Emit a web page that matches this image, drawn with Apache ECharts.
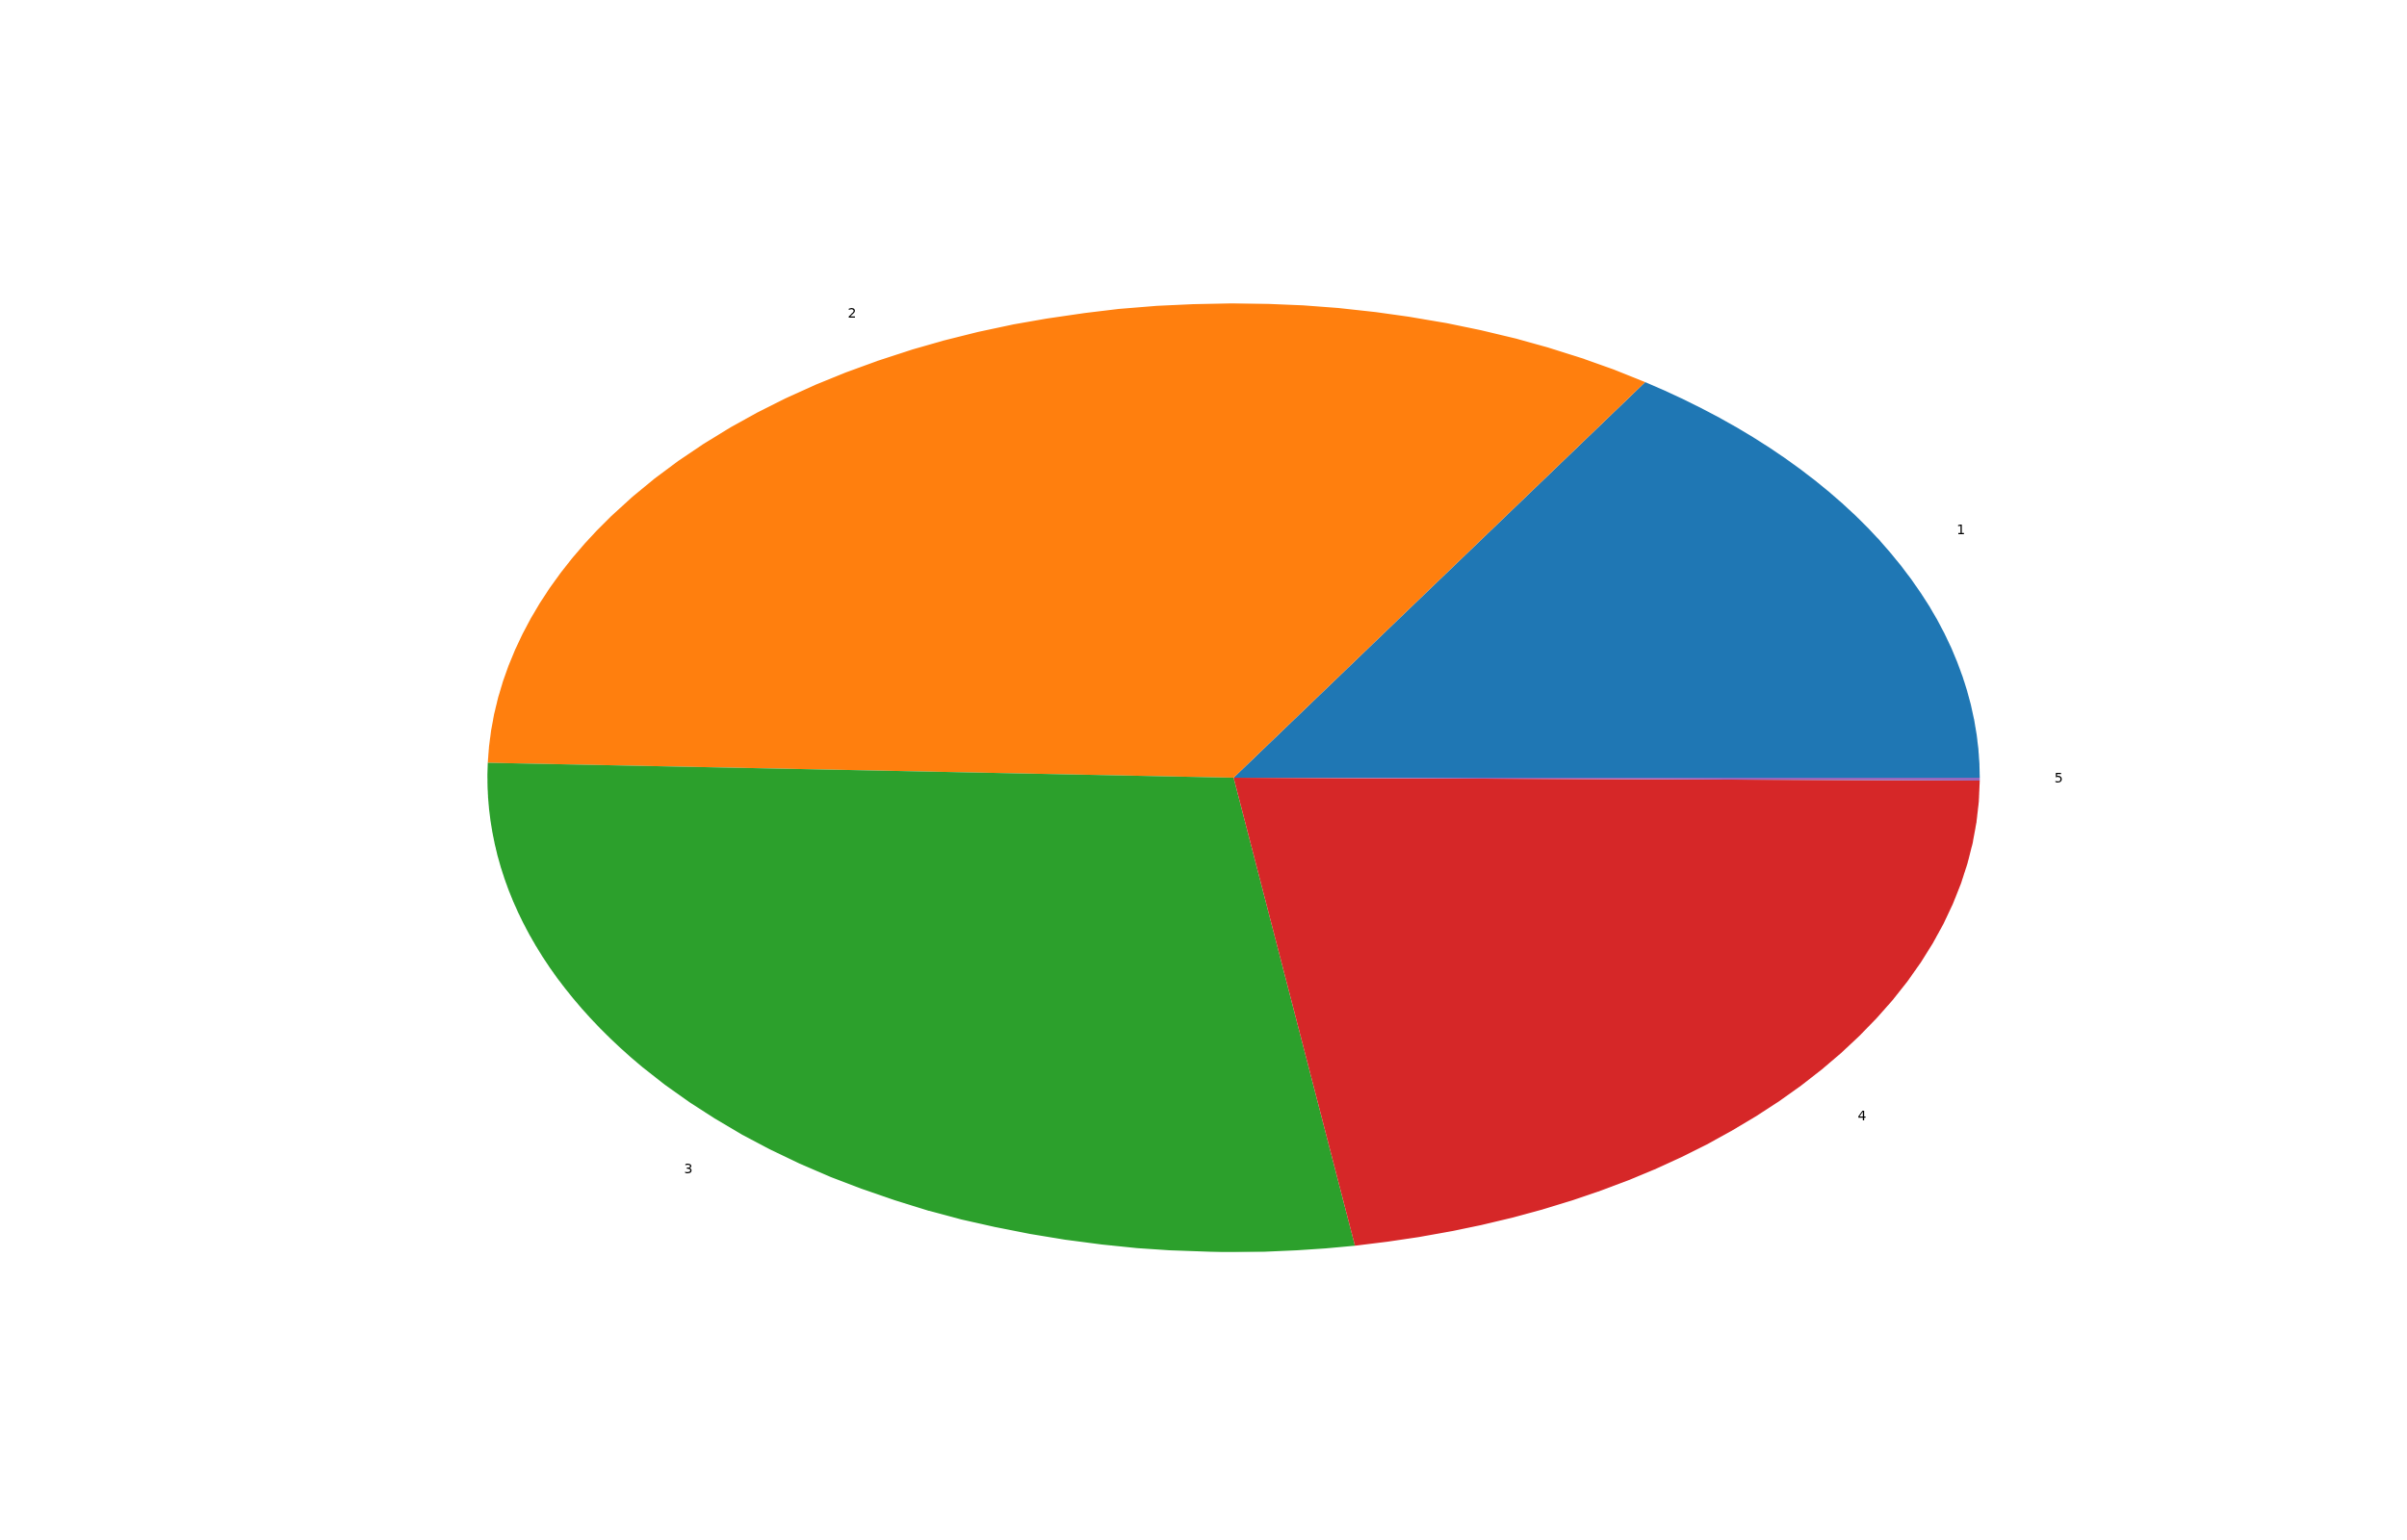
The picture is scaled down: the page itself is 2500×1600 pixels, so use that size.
<!DOCTYPE html>
<html>
<head>
<meta charset="utf-8">
<script src="https://cdn.jsdelivr.net/npm/echarts@6/dist/echarts.min.js"></script>
<style>html,body{margin:0;padding:0;background:#fff;}#c{width:2500px;height:1600px;}</style>
</head>
<body>
<div id="c"></div>
<script>
const labels = ['1', '2', '3', '4', '5'];
const values = [15.7, 33.8, 28.1, 22.3, 0.1];
const colors = ['#1f77b4', '#ff7f0e', '#2ca02c', '#d62728', '#9467bd'];

const total = values.reduce((a, b) => a + b, 0);
const cum = [];
values.reduce((acc, v, i) => { cum[i] = acc; return acc + v; }, 0);

const chart = echarts.init(document.getElementById('c'));
chart.setOption({
  backgroundColor: '#ffffff',
  animation: false,
  series: [{
    type: 'custom',
    coordinateSystem: 'none',
    data: values.map(v => [v]),
    renderItem: function (params, api) {
      const i = params.dataIndex;
      const W = api.getWidth(), H = api.getHeight();
      // matplotlib default axes box with ±1.25 limits
      const cx = W * (0.125 + 0.775 / 2);
      const cy = H * (1 - 0.11 - 0.77 / 2);
      const rx = W * 0.775 / 2 / 1.25;
      const ry = H * 0.77 / 2 / 1.25;
      const a1 = cum[i] / total * 2 * Math.PI;
      const a2 = (cum[i] + api.value(0)) / total * 2 * Math.PI;
      const mid = (a1 + a2) / 2;
      return {
        type: 'group',
        children: [{
          type: 'sector',
          x: cx, y: cy, scaleX: 1, scaleY: ry / rx,
          shape: { cx: 0, cy: 0, r0: 0, r: rx, startAngle: -a1, endAngle: -a2, clockwise: false },
          style: { fill: colors[i], stroke: null }
        }, {
          type: 'text',
          x: cx + 1.1 * rx * Math.cos(mid),
          y: cy - 1.1 * ry * Math.sin(mid),
          style: { text: labels[i], fill: '#000', font: '14px "DejaVu Sans"', align: Math.cos(mid) > 0 ? 'left' : 'right', verticalAlign: 'middle' }
        }]
      };
    }
  }]
});
</script>
</body>
</html>
